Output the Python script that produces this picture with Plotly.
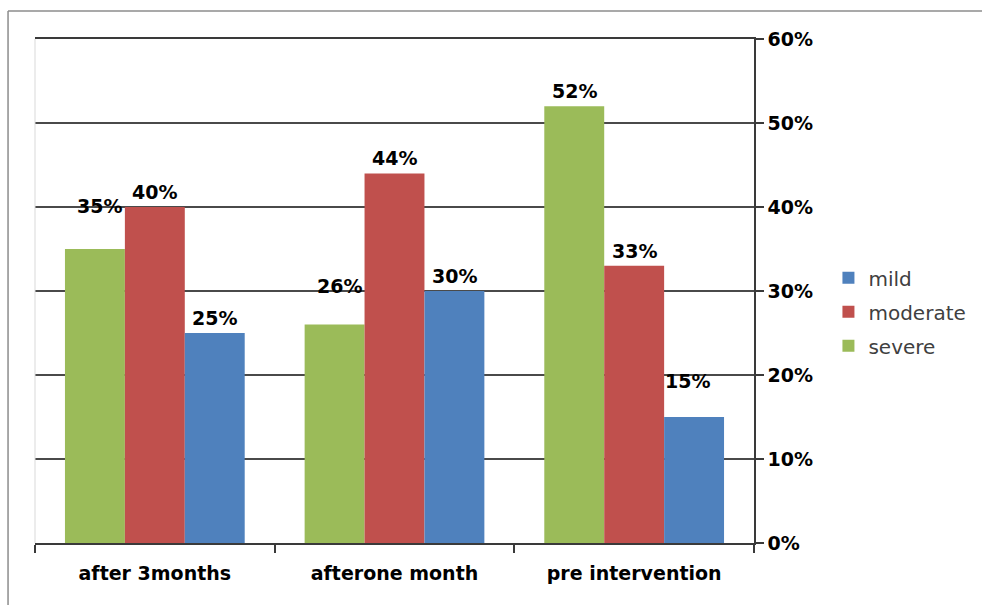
import plotly.graph_objects as go

categories = ["after 3months", "afterone month", "pre intervention"]
series_names = ["severe", "moderate", "mild"]
severe = [0.35, 0.26, 0.52]
moderate = [0.40, 0.44, 0.33]
mild = [0.25, 0.30, 0.15]
series_values = [severe, moderate, mild]
colors = ["#9BBB59", "#C0504D", "#4F81BD"]
y_ticks = [0, 0.1, 0.2, 0.3, 0.4, 0.5, 0.6]

# per-label pixel nudges (style): (series index, category index) -> (xshift, yshift)
label_nudge = {(0, 0): (5, 28), (0, 1): (5, 24), (2, 2): (-7, 21)}
BAR_PX = 60
FONT = "DejaVu Sans"

fig = go.Figure()
for i, (name, vals, col) in enumerate(zip(series_names, series_values, colors)):
    fig.add_trace(go.Bar(x=categories, y=vals, name=name, legendgroup=name,
                         legendrank=1000 - i,
                         marker=dict(color=col, line=dict(width=0))))

for s, vals in enumerate(series_values):
    for c, v in enumerate(vals):
        dx, dy = label_nudge.get((s, c), (0, 0))
        fig.add_annotation(x=categories[c], y=v, text=f"{round(v*100)}%", showarrow=False,
                           xref="x", yref="y", yanchor="bottom", xanchor="center",
                           xshift=(s - 1) * BAR_PX + dx, yshift=2 + dy,
                           font=dict(family=FONT, size=19, color="#000000", weight="bold"))

# faint left edge of plot area and outer chart border
fig.add_shape(type="line", xref="paper", yref="paper", x0=0, x1=0, y0=0, y1=1,
              line=dict(color="#d9d9d9", width=1))
fig.add_shape(type="line", xref="paper", yref="paper", x0=-0.0375, x1=-0.0375, y0=-0.2, y1=1.0556,
              line=dict(color="#8c8c8c", width=1.5))
fig.add_shape(type="line", xref="paper", yref="paper", x0=-0.0375, x1=1.4, y0=1.0556, y1=1.0556,
              line=dict(color="#8c8c8c", width=1.5))

fig.update_layout(
    width=982, height=605,
    margin=dict(l=35, r=227, t=39, b=62),
    paper_bgcolor="white", plot_bgcolor="white",
    barmode="group", bargap=0.25, bargroupgap=0,
    showlegend=True,
    legend=dict(x=1.102, y=0.565, xanchor="left", yanchor="top", traceorder="grouped",
                tracegroupgap=5,
                font=dict(family=FONT, size=20, color="#404040"),
                bgcolor="rgba(0,0,0,0)", itemwidth=30),
    xaxis=dict(showline=True, linecolor="#3a3a3a", linewidth=1.5, mirror=True,
               ticks="outside", tickson="boundaries", ticklen=8, tickcolor="#3a3a3a", tickwidth=1.5,
               ticklabelstandoff=12,
               tickfont=dict(family=FONT, size=19, color="#000000", weight="bold"),
               showgrid=False),
    yaxis=dict(side="right", range=[0, 0.6], tickvals=y_ticks, tickformat=".0%",
               showline=True, linecolor="#3a3a3a", linewidth=1.5,
               ticks="outside", ticklen=8, tickcolor="#3a3a3a", tickwidth=1.5,
               showgrid=True, gridcolor="#4a4a4a", gridwidth=1.5, zeroline=False,
               tickfont=dict(family=FONT, size=19, color="#000000", weight="bold")),
)

fig.write_html("out.html")
